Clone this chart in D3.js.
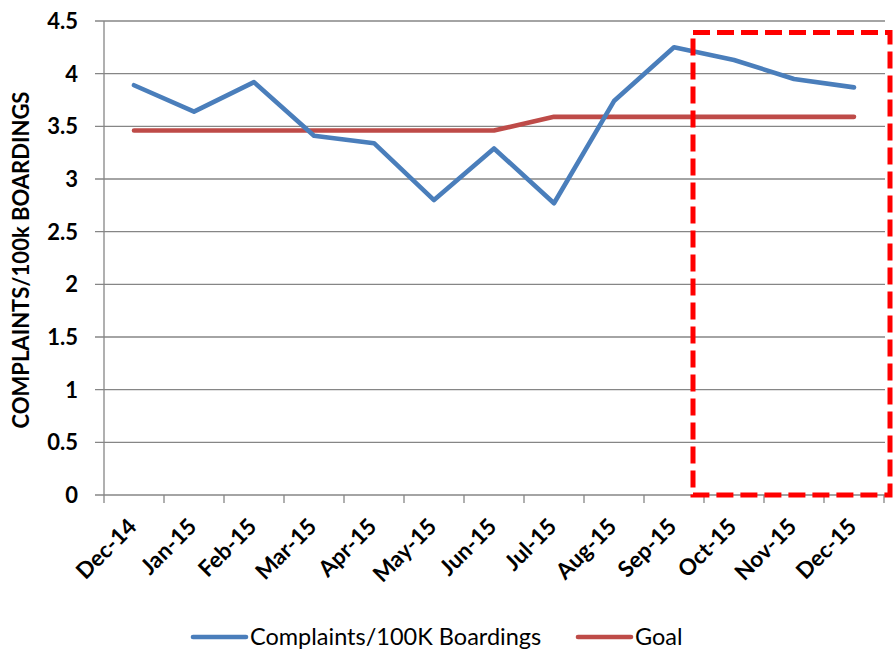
<!DOCTYPE html>
<html>
<head>
<meta charset="utf-8">
<script src="https://cdn.jsdelivr.net/npm/d3@7"></script>
<style>
  body { margin: 0; background: #fff; }
  svg { display: block; }
</style>
</head>
<body>
<svg id="chart" width="893" height="650"></svg>
<script>
// data
var months = ["Dec-14", "Jan-15", "Feb-15", "Mar-15", "Apr-15", "May-15", "Jun-15",
              "Jul-15", "Aug-15", "Sep-15", "Oct-15", "Nov-15", "Dec-15"];
var complaints = [3.89, 3.64, 3.92, 3.41, 3.34, 2.80, 3.29, 2.77, 3.74, 4.25, 4.13, 3.95, 3.87];
var goal = [3.46, 3.46, 3.46, 3.46, 3.46, 3.46, 3.46, 3.59, 3.59, 3.59, 3.59, 3.59, 3.59];
var yTicks = [0, 0.5, 1, 1.5, 2, 2.5, 3, 3.5, 4, 4.5];
var seriesNames = ["Complaints/100K Boardings", "Goal"];

var blue = "#4a7ebb", red = "#be4b48", grid = "#868686";
var fontFam = "Lato, 'Open Sans', sans-serif";
var svg = d3.select("#chart");

// plot box (note: "top" is taken by window.top, so use plot* names)
var plotL = 104, plotR = 884, plotT = 21, plotB = 495;

var x = d3.scaleBand().domain(months).range([plotL, plotR]);
var y = d3.scaleLinear().domain([0, 4.5]).range([plotB, plotT]);
var cx = function(d) { return x(d) + x.bandwidth() / 2; };

// gridlines
svg.append("g").selectAll("line")
    .data(yTicks)
    .enter().append("line")
    .attr("x1", plotL - 9)
    .attr("x2", plotR + 1)
    .attr("y1", function(d) { return y(d); })
    .attr("y2", function(d) { return y(d); })
    .attr("stroke", grid)
    .attr("stroke-width", 1.3);

// y axis line
svg.append("line")
    .attr("x1", plotL).attr("x2", plotL)
    .attr("y1", plotT).attr("y2", plotB)
    .attr("stroke", grid).attr("stroke-width", 1.3);

// y tick labels
svg.append("g").selectAll("text")
    .data(yTicks)
    .enter().append("text")
    .attr("x", 78)
    .attr("y", function(d) { return y(d); })
    .attr("dy", "0.36em")
    .attr("text-anchor", "end")
    .attr("font-family", fontFam)
    .attr("font-weight", "bold")
    .attr("font-size", 22)
    .attr("fill", "#000")
    .text(function(d) { return d3.format("")(d); });

// x boundary ticks
var bounds = months.map(function(m) { return x(m); }).concat([plotR]);
svg.append("g").selectAll("line")
    .data(bounds)
    .enter().append("line")
    .attr("x1", function(d) { return d; })
    .attr("x2", function(d) { return d; })
    .attr("y1", plotB)
    .attr("y2", plotB + 8)
    .attr("stroke", grid)
    .attr("stroke-width", 1.3);

// x labels
svg.append("g").selectAll("text")
    .data(months)
    .enter().append("text")
    .attr("transform", function(d) { return "translate(" + (cx(d) + 4) + "," + (plotB + 33) + ") rotate(-45)"; })
    .attr("text-anchor", "end")
    .attr("font-family", fontFam)
    .attr("font-weight", "bold")
    .attr("font-size", 22.5)
    .attr("fill", "#000")
    .text(function(d) { return d; });

// y axis title
svg.append("text")
    .attr("transform", "translate(29," + ((plotT + plotB) / 2 + 2) + ") rotate(-90)")
    .attr("text-anchor", "middle")
    .attr("font-family", fontFam)
    .attr("font-weight", "bold")
    .attr("font-size", 22)
    .attr("fill", "#000")
    .text("COMPLAINTS/100k BOARDINGS");

// lines
var line = d3.line()
    .x(function(d, i) { return cx(months[i]); })
    .y(function(d) { return y(d); });

svg.append("path")
    .datum(goal)
    .attr("d", line)
    .attr("fill", "none")
    .attr("stroke", red)
    .attr("stroke-width", 4.6)
    .attr("stroke-linecap", "round")
    .attr("stroke-linejoin", "round");

svg.append("path")
    .datum(complaints)
    .attr("d", line)
    .attr("fill", "none")
    .attr("stroke", blue)
    .attr("stroke-width", 4.6)
    .attr("stroke-linecap", "round")
    .attr("stroke-linejoin", "round");

// red dashed highlight box around the last quarter
var boxL = x("Oct-15") - 11, boxR = plotR + 6;
svg.append("rect")
    .attr("x", boxL)
    .attr("y", y(4.39))
    .attr("width", boxR - boxL)
    .attr("height", y(0) - y(4.39))
    .attr("fill", "none")
    .attr("stroke", "#ff0000")
    .attr("stroke-width", 5)
    .attr("stroke-dasharray", "17,7");

// legend
var legendItems = [
    { name: seriesNames[0], color: blue, x: 193 },
    { name: seriesNames[1], color: red, x: 578 }
];
var lg = svg.append("g").selectAll("g")
    .data(legendItems)
    .enter().append("g")
    .attr("transform", function(d) { return "translate(" + d.x + ",637)"; });
lg.append("line")
    .attr("x1", 0).attr("x2", 53)
    .attr("stroke", function(d) { return d.color; })
    .attr("stroke-width", 4.6)
    .attr("stroke-linecap", "round");
lg.append("text")
    .attr("x", 57)
    .attr("dy", "0.36em")
    .attr("font-family", fontFam)
    .attr("font-size", 23.5)
    .attr("fill", "#000")
    .text(function(d) { return d.name; });
</script>
</body>
</html>
